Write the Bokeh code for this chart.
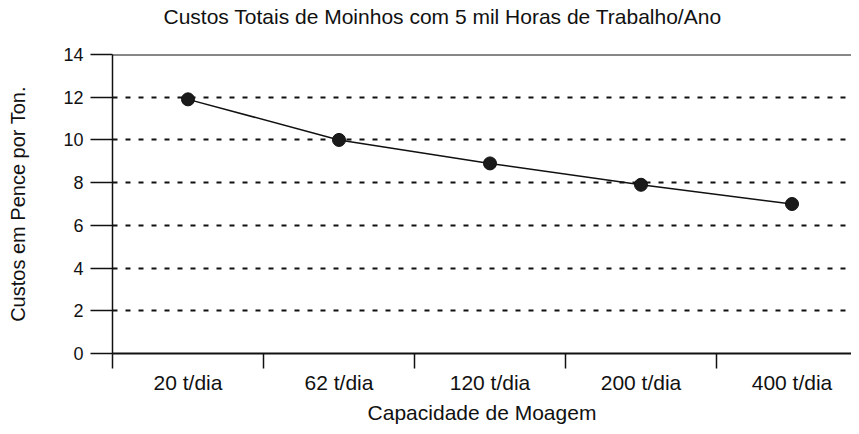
from bokeh.plotting import figure
from bokeh.models import FixedTicker, Range1d, Span, Title
from bokeh.embed import file_html
from bokeh.resources import INLINE

categories = ["20 t/dia", "62 t/dia", "120 t/dia", "200 t/dia", "400 t/dia"]
costs = [11.9, 10.0, 8.9, 7.9, 7.0]
y_ticks = [0, 2, 4, 6, 8, 10, 12, 14]
grid_ticks = [2, 4, 6, 8, 10, 12]
title_text = "Custos Totais de Moinhos com 5 mil Horas de Trabalho/Ano"

FONT = "Liberation Sans"
xs = [i + 0.5 for i in range(len(categories))]

p = figure(width=851, height=426, output_backend="svg", toolbar_location=None,
           x_range=Range1d(0, 4.894), y_range=Range1d(0, 14),
           min_border_left=112, min_border_right=0, min_border_top=51,
           min_border_bottom=73)
p.outline_line_color = None
p.background_fill_color = "white"

xa = p.below[0]
ya = p.left[0]

# near-invisible spacer panel between frame and title (first added = nearest frame)
spacer = Title(text=" ", text_font=FONT, text_font_size="1px", standoff=22,
               text_color="white")
p.add_layout(spacer, "above")
t = Title(text=title_text, text_font=FONT, text_font_size="21px",
          text_font_style="normal", text_color="#111111",
          align="left", offset=51, standoff=4)
p.add_layout(t, "above")

# x axis
xa.ticker = FixedTicker(ticks=xs, minor_ticks=list(range(len(categories))))
xa.major_label_overrides = {x: c for x, c in zip(xs, categories)}
xa.major_tick_line_color = None
xa.major_tick_out = 15
xa.major_tick_in = 0
xa.minor_tick_out = 15
xa.minor_tick_in = 0
xa.minor_tick_line_color = "#111111"
xa.minor_tick_line_width = 1.5
xa.axis_line_color = "#111111"
xa.axis_line_width = 2
xa.major_label_text_font = FONT
xa.major_label_text_font_size = "21px"
xa.major_label_text_color = "#111111"
xa.major_label_standoff = 2
xa.axis_label = "Capacidade de Moagem"
xa.axis_label_text_font = FONT
xa.axis_label_text_font_size = "21px"
xa.axis_label_text_font_style = "normal"
xa.axis_label_text_color = "#111111"
xa.axis_label_standoff = 4

# y axis
ya.ticker = FixedTicker(ticks=y_ticks)
ya.major_tick_out = 22
ya.major_tick_in = 0
ya.major_tick_line_color = "#111111"
ya.major_tick_line_width = 1.5
ya.minor_tick_line_color = None
ya.axis_line_color = "#111111"
ya.axis_line_width = 1.5
ya.major_label_text_font = FONT
ya.major_label_text_font_size = "18px"
ya.major_label_text_color = "#111111"
ya.major_label_standoff = 7
ya.axis_label = "Custos em Pence por Ton."
ya.axis_label_text_font = FONT
ya.axis_label_text_font_size = "20px"
ya.axis_label_text_font_style = "normal"
ya.axis_label_text_color = "#111111"
ya.axis_label_standoff = 31

p.xgrid.visible = False
p.ygrid.ticker = FixedTicker(ticks=grid_ticks)
p.ygrid.grid_line_color = "#111111"
p.ygrid.grid_line_width = 1.8
p.ygrid.grid_line_dash = "5 8"

p.add_layout(Span(location=14, dimension="width", line_color="#111111", line_width=2))

p.line(xs, costs, line_color="#111111", line_width=1.5)
p.scatter(xs, costs, size=13, fill_color="#1a1a1a", line_color="#111111")

open("out.html", "w").write(file_html(p, INLINE))
